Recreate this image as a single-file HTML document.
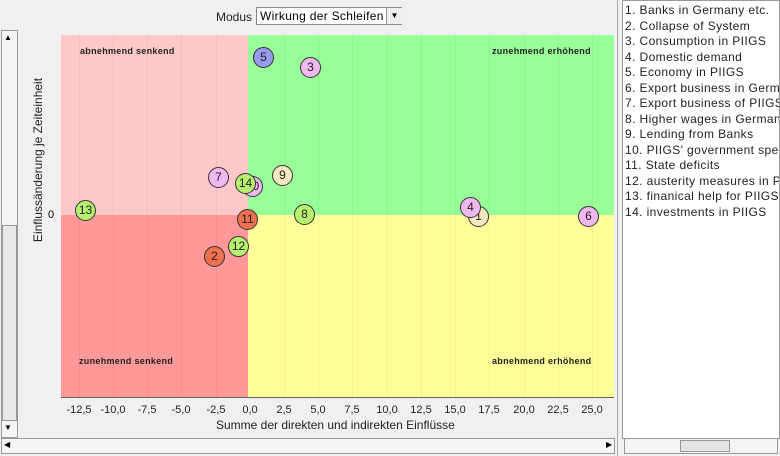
<!DOCTYPE html>
<html><head><meta charset="utf-8"><style>
body{margin:0;width:780px;height:456px;background:#f0f0f0;font-family:"Liberation Sans",sans-serif;position:relative;overflow:hidden}
.abs{position:absolute}
.b{position:absolute;width:19px;height:19px;border:1px solid #333;border-radius:50%;font-size:12px;line-height:19px;text-align:center;color:#222;box-sizing:content-box}
.sb{position:absolute;background:#f4f4f4;border:1px solid #999;box-sizing:border-box}
.q{position:absolute;font-size:9px;font-weight:bold;color:#222;letter-spacing:.3px}
.t{position:absolute;top:404px;font-size:11px;color:#222;width:40px;text-align:center}
.leg div{height:15.5px;font-size:12px;letter-spacing:0.4px;color:#222;white-space:nowrap}
.g{position:absolute;top:35px;width:1px;height:362px;background:rgba(0,0,0,0.05)}
</style></head><body>
<div class="abs" style="left:617px;top:0;width:1px;height:456px;background:#aaa"></div>
<div class="abs" style="left:622px;top:0;width:156px;height:437px;background:#fff;border:1px solid #999;overflow:hidden">
<div class="leg" style="padding:2px 0 0 2px">
<div>1. Banks in Germany etc.</div><div>2. Collapse of System</div><div>3. Consumption in PIIGS</div><div>4. Domestic demand</div><div>5. Economy in PIIGS</div><div>6. Export business in Germany</div><div>7. Export business of PIIGS</div><div>8. Higher wages in Germany</div><div>9. Lending from Banks</div><div>10. PIIGS' government spending</div><div>11. State deficits</div><div>12. austerity measures in PIIGS</div><div>13. finanical help for PIIGS</div><div>14. investments in PIIGS</div>
</div></div>
<div class="sb" style="left:624px;top:438px;width:154px;height:16px"></div>
<div class="sb" style="left:680px;top:440px;width:50px;height:12px;background:#e4e4e4"></div>
<div class="abs" style="left:216px;top:10px;font-size:12px;color:#222">Modus</div>
<div class="abs" style="left:256px;top:7px;width:146px;height:18px;background:#fff;border:1px solid #888;box-sizing:border-box;font-size:12px;line-height:16px;padding-left:3px;letter-spacing:0.3px">Wirkung der Schleifen</div>
<div class="abs" style="left:386px;top:8px;width:15px;height:16px;background:#eee;border-left:1px solid #999;font-size:8px;text-align:center;line-height:16px">▼</div>
<div class="sb" style="left:1px;top:30px;width:17px;height:408px"></div>
<div class="abs" style="left:4px;top:33px;font-size:8px">▲</div>
<div class="abs" style="left:4px;top:423px;font-size:8px">▼</div>
<div class="sb" style="left:2px;top:225px;width:15px;height:196px;background:#e8e8e8"></div>
<div class="sb" style="left:1px;top:438px;width:614px;height:16px"></div>
<div class="abs" style="left:4px;top:440px;font-size:8px">◀</div>
<div class="abs" style="left:606px;top:440px;font-size:8px">▶</div>
<div class="abs" style="left:61px;top:35px;width:187px;height:180px;background:#ffc8c8"></div>
<div class="abs" style="left:248px;top:35px;width:366px;height:180px;background:#99ff99"></div>
<div class="abs" style="left:61px;top:215px;width:187px;height:182px;background:#ff9999"></div>
<div class="abs" style="left:248px;top:215px;width:366px;height:182px;background:#ffff99"></div>
<div class="g" style="left:79px"></div><div class="g" style="left:113px"></div><div class="g" style="left:147px"></div><div class="g" style="left:181px"></div><div class="g" style="left:216px"></div><div class="g" style="left:284px"></div><div class="g" style="left:318px"></div><div class="g" style="left:352px"></div><div class="g" style="left:387px"></div><div class="g" style="left:421px"></div><div class="g" style="left:455px"></div><div class="g" style="left:489px"></div><div class="g" style="left:524px"></div><div class="g" style="left:558px"></div><div class="g" style="left:592px"></div>
<div class="abs" style="left:61px;top:397px;width:553px;height:1px;background:#666"></div>
<div class="q" style="left:80px;top:46px">abnehmend senkend</div>
<div class="q" style="left:492px;top:46px">zunehmend erhöhend</div>
<div class="q" style="left:79px;top:356px">zunehmend senkend</div>
<div class="q" style="left:492px;top:356px">abnehmend erhöhend</div>
<div class="abs" style="left:48px;top:209px;font-size:11px">0</div>
<div class="abs" style="left:-52px;top:153px;width:180px;text-align:center;transform:rotate(-90deg);font-size:12px;color:#222">Einflussänderung je Zeiteinheit</div>
<div class="t" style="left:59px">-12,5</div><div class="t" style="left:93px">-10,0</div><div class="t" style="left:127px">-7,5</div><div class="t" style="left:161px">-5,0</div><div class="t" style="left:196px">-2,5</div><div class="t" style="left:230px">0,0</div><div class="t" style="left:264px">2,5</div><div class="t" style="left:298px">5,0</div><div class="t" style="left:332px">7,5</div><div class="t" style="left:367px">10,0</div><div class="t" style="left:401px">12,5</div><div class="t" style="left:435px">15,0</div><div class="t" style="left:469px">17,5</div><div class="t" style="left:504px">20,0</div><div class="t" style="left:538px">22,5</div><div class="t" style="left:572px">25,0</div>
<div class="abs" style="left:216px;top:418px;font-size:12px;color:#222">Summe der direkten und indirekten Einflüsse</div>
<div class="b" style="left:253px;top:47px;background:#9999ee">5</div>
<div class="b" style="left:300px;top:57px;background:#f0b8f0">3</div>
<div class="b" style="left:208px;top:167px;background:#f0b8f0">7</div>
<div class="b" style="left:242px;top:176px;background:#f0b8f0">10</div>
<div class="b" style="left:235px;top:173px;background:#b8f070">14</div>
<div class="b" style="left:272px;top:165px;background:#f4e8c0">9</div>
<div class="b" style="left:75px;top:200px;background:#b8f070">13</div>
<div class="b" style="left:294px;top:204px;background:#b8f070">8</div>
<div class="b" style="left:237px;top:209px;background:#f07050">11</div>
<div class="b" style="left:228px;top:236px;background:#b8f070">12</div>
<div class="b" style="left:204px;top:246px;background:#f07050">2</div>
<div class="b" style="left:468px;top:206px;background:#f4e8c0">1</div>
<div class="b" style="left:460px;top:197px;background:#f0b8f0">4</div>
<div class="b" style="left:578px;top:206px;background:#f0b8f0">6</div>
</body></html>
